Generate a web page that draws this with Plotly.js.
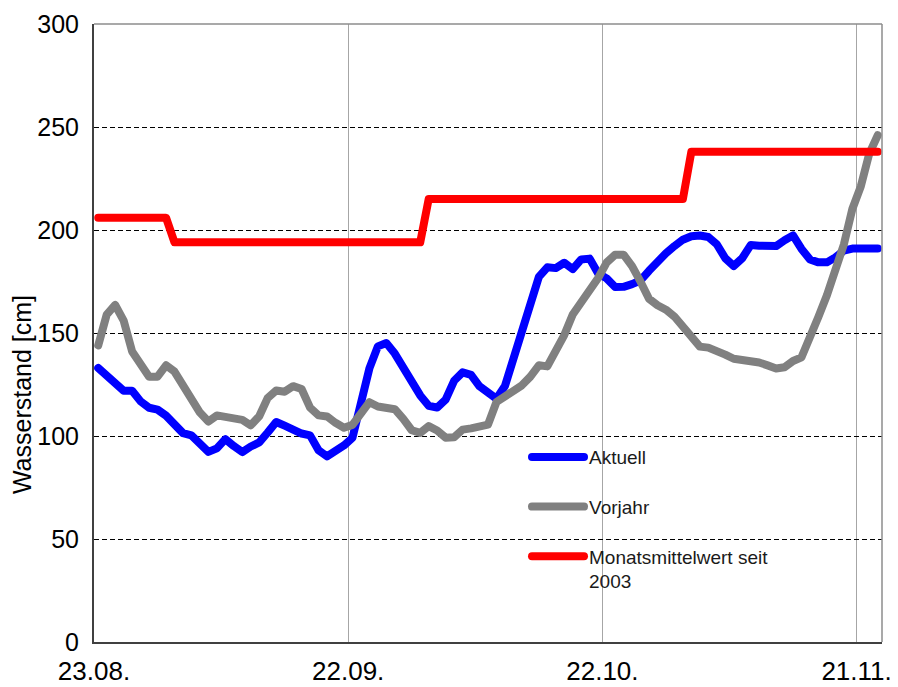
<!DOCTYPE html>
<html>
<head>
<meta charset="utf-8">
<script src="https://cdn.plot.ly/plotly-3.0.1.min.js"></script>
<style>
  html, body { margin: 0; padding: 0; background: #fff; }
  #chart { width: 898px; height: 687px; }
  /* rounded ends and joins for the water level lines */
  #chart path.js-line { stroke-linecap: round; stroke-linejoin: round; }
</style>
</head>
<body>
<div id="chart"></div>
<script>
// Pegelstand: daily values from 23.08. to 23.11.
const firstDay = [2023, 8, 23];

const aktuell = [
  133, 129.2, 125.6, 122, 122, 116.8, 113.7, 112.8, 109.9, 105.6,
  101.4, 100.3, 96.7, 92.3, 94, 98.5, 95.1, 92.2, 94.9, 96.9,
  101.7, 106.8, 105, 102.6, 101.2, 100.3, 93.1, 90.1, 92.4, 95.4,
  99.1, 114.5, 132.8, 143.5, 145.1, 140, 132.8, 126, 119.7, 114.7,
  113.8, 117.7, 126.8, 130.9, 129.7, 124.1, 120.5, 118.1, 124.3, 137.9,
  151.3, 164.1, 177.2, 181.9, 181.5, 184.1, 181, 185.7, 186.1, 178.9,
  176.5, 172.3, 172.4, 173.7, 175.5, 180.2, 185.2, 188.7, 192.2, 195.3,
  197, 197.3, 196.6, 193.1, 186.3, 182.5, 186.3, 192.7, 192.4, 192.2,
  192.2, 195, 197.4, 190.8, 185.7, 184.3, 184.3, 186.7, 190, 191,
  191, 191, 191
];

const vorjahr = [
  144, 158.9, 163.6, 156, 141, 134.7, 128.8, 128.8, 134.3, 131.3,
  125.1, 119, 111.4, 107, 110, 109.3, 108.1, 107.8, 105.2, 109.6,
  118.5, 122.1, 121.5, 124.2, 122.8, 113.8, 110, 109.5, 106.4, 104,
  105.4, 111.6, 116.4, 114.3, 114.1, 113, 108.3, 102.8, 101.5, 104.8,
  102.7, 99.2, 99.4, 103.1, 103.7, 104.2, 105.5, 116.5, 119.1, 121.6,
  124.6, 128.8, 134.3, 133.8, 141, 149, 159, 165.2, 170, 176.7,
  184.2, 188, 188, 182.5, 174.9, 166.6, 163.5, 161.3, 158, 153.1,
  147.3, 143.4, 142.9, 141.6, 139.5, 137.5, 136.9, 136.8, 135.7, 134.3,
  132.8, 133.4, 136.4, 138.2, 147.4, 157.9, 168.3, 180.4, 193, 210.2,
  221.2, 237.1, 246
];

// Monthly mean water level since 2003
const meanMonths = [8, 9, 10, 11];
const meanValues = [206, 194, 215, 238];

const seriesNames = ['Aktuell', 'Vorjahr', 'Monatsmittelwert seit<br>2003'];
const seriesColors = ['#0000ff', '#808080', '#ff0000'];

const yTitle = 'Wasserstand [cm]';
const tickStepDays = 30;
const axisDays = 93;

const pad = n => String(n).padStart(2, '0');
const DAY = 86400000;
const t0 = Date.UTC(firstDay[0], firstDay[1] - 1, firstDay[2]);
function fmt(ms, noon) {
  const d = new Date(ms);
  return d.getUTCFullYear() + '-' + pad(d.getUTCMonth() + 1) + '-' + pad(d.getUTCDate()) +
    (noon ? ' 12:00' : '');
}
// each day is plotted in the middle of its interval
const dates = aktuell.map((_, i) => fmt(t0 + i * DAY, true));
const monthOf = aktuell.map((_, i) => new Date(t0 + i * DAY).getUTCMonth() + 1);
const mittel = monthOf.map(m => meanValues[meanMonths.indexOf(m)]);

const values = [aktuell, vorjahr, mittel];
const traces = values.map((v, k) => ({
  type: 'scatter',
  mode: 'lines',
  x: dates,
  y: v,
  name: seriesNames[k],
  legendgroup: 'g' + k,
  line: { color: seriesColors[k], width: 8 },
  hoverinfo: 'skip'
}));

const FONT = 'Liberation Sans, Arial, sans-serif';

const layout = {
  width: 898,
  height: 687,
  margin: { l: 94, r: 16, t: 24, b: 45 },
  paper_bgcolor: '#ffffff',
  plot_bgcolor: '#ffffff',
  showlegend: true,
  legend: {
    x: 0.5495, y: 0.33, xanchor: 'left', yanchor: 'top',
    bgcolor: 'rgba(0,0,0,0)',
    font: { family: FONT, size: 19, color: '#1a1a1a' },
    itemwidth: 52,
    tracegroupgap: 22,
    valign: 'top'
  },
  xaxis: {
    type: 'date',
    range: [fmt(t0, false), fmt(t0 + axisDays * DAY, false)],
    tick0: fmt(t0, false),
    dtick: tickStepDays * DAY,
    tickformat: '%d.%m.',
    ticks: '',
    ticklabelstandoff: 5,
    showgrid: true,
    gridcolor: '#a6a6a6',
    gridwidth: 1,
    showline: true,
    linecolor: '#404040',
    linewidth: 2,
    zeroline: false,
    tickfont: { family: FONT, size: 26, color: '#000' },
    fixedrange: true
  },
  yaxis: {
    range: [0, 300],
    dtick: 50,
    ticks: '',
    ticklabelstandoff: 8,
    showgrid: true,
    gridcolor: '#000000',
    gridwidth: 1,
    griddash: '5px,3px',
    showline: true,
    linecolor: '#404040',
    linewidth: 2,
    zeroline: false,
    tickfont: { family: FONT, size: 25, color: '#000' },
    fixedrange: true
  },
  annotations: [
    { text: yTitle, xref: 'paper', yref: 'paper', x: -0.0915, y: 0.401,
      xanchor: 'center', yanchor: 'middle', textangle: -90, showarrow: false,
      font: { family: FONT, size: 25, color: '#000' } }
  ],
  shapes: [
    { type: 'line', xref: 'paper', yref: 'paper', x0: 0, x1: 1, y0: 1, y1: 1,
      line: { color: '#8c8c8c', width: 1.5 } },
    { type: 'line', xref: 'paper', yref: 'paper', x0: 1, x1: 1, y0: 0, y1: 1,
      line: { color: '#8c8c8c', width: 1.5 } }
  ]
};

Plotly.newPlot('chart', traces, layout, { displayModeBar: false, staticPlot: true });
</script>
</body>
</html>
